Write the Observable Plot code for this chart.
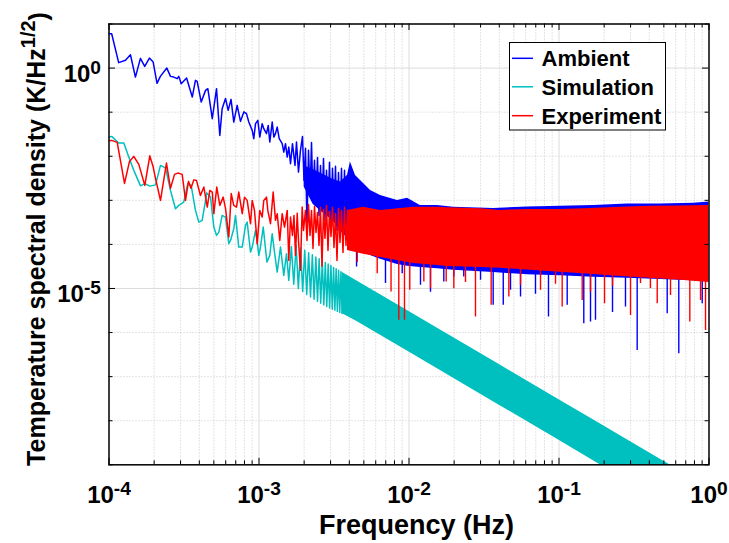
<!DOCTYPE html>
<html><head><meta charset="utf-8">
<script src="https://cdn.jsdelivr.net/npm/d3@7"></script>
<script src="https://cdn.jsdelivr.net/npm/@observablehq/plot@0.6"></script>
<style>body{margin:0;background:#fff}</style>
</head><body><div id="chart"></div>
<script>
// ---------- data ----------
const seriesNames = ["Ambient", "Simulation", "Experiment"];
const seriesColors = ["#0000ff", "#00bfbf", "#ff0000"];

const xMajorTicks = [1e-4, 1e-3, 1e-2, 1e-1, 1];
const xTickLabels = ["10^-4", "10^-3", "10^-2", "10^-1", "10^0"];
const yMajorTicks = [1e-5, 1e0];
const yTickLabels = ["10^-5", "10^0"];

// Ambient: resolved low-frequency part, then the fast oscillation up to ~4e-3 Hz
const ambientFreq = [9.26e-5,1.042e-4,1.16e-4,1.288e-4,1.39e-4,1.50e-4,1.62e-4,1.73e-4,1.86e-4,1.97e-4,2.09e-4,2.20e-4,2.43e-4,2.57e-4,2.70e-4,2.85e-4,2.92e-4,3.03e-4,3.29e-4,3.59e-4,3.77e-4,3.87e-4,4.12e-4,4.40e-4,4.56e-4,4.88e-4,5.21e-4,5.48e-4,5.68e-4,5.98e-4,6.23e-4,6.51e-4,6.79e-4,7.15e-4,7.53e-4,7.92e-4,8.25e-4,8.55e-4,9.01e-4,9.23e-4,9.48e-4,9.82e-4,1.012e-3,1.05e-3,1.076e-3,1.122e-3,1.152e-3,1.18e-3,1.225e-3,1.256e-3,1.288e-3,1.322e-3,1.364e-3,1.428e-3,1.463e-3,1.502e-3,1.542e-3,1.58e-3,1.622e-3,1.672e-3,1.738e-3,1.778e-3,1.833e-3,1.89e-3,
  1.95e-3,1.995e-3,2.042e-3,2.089e-3,2.138e-3,2.188e-3,2.239e-3,2.291e-3,2.344e-3,2.399e-3,2.455e-3,2.512e-3,2.570e-3,2.630e-3,2.692e-3,2.754e-3,2.818e-3,2.884e-3,2.951e-3,3.020e-3,3.090e-3,3.162e-3,3.236e-3,3.311e-3,3.388e-3,3.467e-3,3.548e-3,3.631e-3,3.715e-3,3.802e-3,3.890e-3];
const ambientPSD  = [6.0,6.0,1.33,1.50,2.01,0.625,1.66,1.09,1.69,1.37,0.45,0.648,1.0,0.648,0.625,0.575,0.648,0.443,0.593,0.22,0.526,0.499,0.169,0.312,0.341,0.0711,0.341,0.0297,0.12,0.205,0.11,0.195,0.0596,0.1425,0.0618,0.1014,0.0924,0.0596,0.0386,0.025,0.0548,0.0651,0.0272,0.0548,0.0422,0.0325,0.0501,0.021,0.0596,0.0272,0.0325,0.0459,0.025,0.0193,0.0124,0.0193,0.00957,0.0161,0.00678,0.0193,0.0062,0.021,0.00437,0.0136,
  0.0282,0.00283,0.0151,2.56e-4,0.0136,0.00129,0.0206,0.000997,0.00806,0.000767,0.00942,0.000455,0.0062,0.000591,0.00894,0.000351,0.00478,0.000532,0.00726,0.00027,0.00531,0.000455,0.00589,0.000208,0.0043,0.000316,0.00531,0.00016,0.00478,0.000231,0.00368];
// Ambient: dense band (upper / lower envelope of the filled part)
const ambientBandFreq = [2.0e-3,2.3e-3,2.7e-3,3.1e-3,3.5e-3,3.89e-3,4.07e-3,4.4e-3,4.75e-3,5.54e-3,6.46e-3,8.38e-3,9.77e-3,1.19e-2,1.55e-2,1.98e-2,3.66e-2,6.17e-2,0.102,0.17,0.286,0.475,0.788,1.0];
const ambientBandHi = [0.006,0.005,0.0038,0.003,0.0026,0.00368,0.00737,0.00368,0.00283,0.00168,0.00129,0.000997,0.00111,0.000767,0.000767,0.000692,0.000656,0.00071,0.000729,0.000767,0.00083,0.00083,0.000853,0.000922];
const ambientBandLo = [0.002,0.0008,0.0005,0.00035,0.0002,0.00014,0.00011,8.5e-5,7.0e-5,5.6e-5,4.6e-5,3.5e-5,3.2e-5,3.0e-5,2.8e-5,2.6e-5,2.3e-5,2.05e-5,1.95e-5,1.8e-5,1.7e-5,1.6e-5,1.5e-5,1.45e-5];
// Ambient: deepest dips below the band
const ambientDipFreq = [4.47e-3,6.97e-3,9.01e-3,1.193e-2,1.391e-2,1.706e-2,1.99e-2,2.318e-2,2.998e-2,3.64e-2,4.25e-2,4.75e-2,5.54e-2,6.97e-2,8.51e-2,0.1134,0.1463,0.1622,0.1751,0.2274,0.2775,0.332,0.5265,0.629,0.901];
const ambientDipPSD  = [3.06e-5,1.3e-5,2.17e-5,1.18e-5,8.16e-6,1.4e-5,1.81e-5,1.81e-5,1.53e-5,4.14e-6,4.14e-6,9.06e-6,6.38e-6,7.35e-6,2.25e-6,4.14e-6,1.59e-6,1.73e-6,1.89e-6,2.87e-6,3.79e-6,3.94e-7,2.68e-6,3.32e-7,4.52e-6];

// Simulation: resolved part and comb teeth
const simFreq = [9.26e-5,1.042e-4,1.16e-4,1.255e-4,1.355e-4,1.463e-4,1.622e-4,1.733e-4,1.871e-4,2.042e-4,2.204e-4,2.38e-4,2.57e-4,2.775e-4,2.92e-4,3.15e-4,3.35e-4,3.53e-4,3.77e-4,3.97e-4,4.18e-4,4.49e-4,4.75e-4,5.00e-4,5.21e-4,5.40e-4,5.68e-4,5.98e-4,6.29e-4,6.46e-4,6.79e-4,6.97e-4,7.33e-4,7.73e-4,8.13e-4,8.34e-4,8.78e-4,9.01e-4,9.48e-4,9.73e-4,9.97e-4,1.023e-3,1.067e-3,1.129e-3,1.18e-3,1.225e-3,1.256e-3,1.322e-3,1.391e-3,1.463e-3,1.525e-3,1.58e-3,
  1.643e-3,1.705e-3,1.768e-3,1.83e-3,1.893e-3,1.955e-3,2.018e-3,2.08e-3,2.143e-3,2.205e-3,2.268e-3,2.33e-3,2.393e-3,2.455e-3,2.518e-3,2.58e-3,2.643e-3,2.705e-3,2.768e-3,2.83e-3,2.893e-3,2.955e-3,3.018e-3,3.08e-3,3.143e-3,3.205e-3,3.268e-3,3.33e-3,3.393e-3,3.455e-3,3.518e-3,3.58e-3];
const simPSD = [0.0254,0.0282,0.0199,0.0199,0.00957,0.00478,0.00213,0.00239,0.0021,0.00224,0.0062,0.00544,0.00168,0.000646,0.000767,0.000912,0.00239,0.00218,0.000591,0.000321,0.000351,0.001475,0.001185,0.000247,0.00016,0.00019,0.000455,0.000417,0.000104,0.000123,0.000227,0.000455,8.69e-5,8.69e-5,0.00027,0.000321,6.7e-5,8.69e-5,0.000208,0.000113,5.64e-5,8.69e-5,0.000247,3.97e-5,5.64e-5,0.000175,8.69e-5,2.36e-5,8.69e-5,1.98e-5,6.15e-5,1.53e-5,
  9.0e-5,1.25e-5,9.5e-5,1.0e-5,8.4e-5,8.5e-6,7.4e-5,7.3e-6,6.5e-5,6.4e-6,5.8e-5,5.7e-6,5.2e-5,5.1e-6,4.7e-5,4.6e-6,4.3e-5,4.2e-6,3.9e-5,3.9e-6,3.6e-5,3.6e-6,3.3e-5,3.4e-6,3.0e-5,3.2e-6,2.8e-5,3.0e-6,2.6e-5,2.85e-6,2.4e-5,2.7e-6];
// Simulation: solid band at high frequency
const simBandFreq = [3.58e-3,4.5e-3,6.0e-3,8.78e-3,1.0e-2,1.46e-2,3.0e-2,4.05e-2,0.1,0.188,0.3,1.0];
const simBandHi = [2.34e-5,1.48e-5,8.3e-6,3.9e-6,3.0e-6,1.41e-6,3.33e-7,1.83e-7,3.0e-8,8.5e-9,3.33e-9,3.0e-10];
const simBandLo = [2.7e-6,1.78e-6,1.0e-6,4.7e-7,3.6e-7,1.69e-7,4.0e-8,2.2e-8,3.6e-9,1.0e-9,4.0e-10,3.6e-11];

// Experiment: resolved low-frequency part, then the fast oscillation up to ~4e-3 Hz
const expFreq = [9.26e-5,1.042e-4,1.134e-4,1.269e-4,1.37e-4,1.463e-4,1.58e-4,1.733e-4,1.871e-4,1.971e-4,2.042e-4,2.204e-4,2.416e-4,2.57e-4,2.734e-4,2.875e-4,3.076e-4,3.236e-4,3.388e-4,3.52e-4,3.675e-4,3.83e-4,4.07e-4,4.29e-4,4.52e-4,4.70e-4,4.88e-4,5.0e-4,5.23e-4,5.48e-4,5.77e-4,5.98e-4,6.29e-4,6.53e-4,6.79e-4,7.08e-4,7.33e-4,7.73e-4,8.01e-4,8.34e-4,8.78e-4,9.01e-4,9.33e-4,9.73e-4,1.012e-3,1.05e-3,1.076e-3,1.122e-3,1.145e-3,1.193e-3,1.243e-3,1.288e-3,1.322e-3,1.376e-3,1.428e-3,1.479e-3,1.542e-3,1.58e-3,1.622e-3,1.672e-3,1.711e-3,1.751e-3,1.798e-3,1.833e-3,1.89e-3,1.94e-3,1.98e-3,2.042e-3,
  2.089e-3,2.138e-3,2.188e-3,2.239e-3,2.291e-3,2.344e-3,2.399e-3,2.455e-3,2.512e-3,2.570e-3,2.630e-3,2.692e-3,2.754e-3,2.818e-3,2.884e-3,2.951e-3,3.020e-3,3.090e-3,3.162e-3,3.236e-3,3.311e-3,3.388e-3,3.467e-3,3.548e-3,3.631e-3,3.715e-3,3.802e-3,3.890e-3];
const expPSD  = [0.0212,0.0229,0.0206,0.00242,0.00764,0.00993,0.00654,0.00218,0.0102,0.00568,0.00315,0.000997,0.007,0.00187,0.00388,0.00415,0.00388,0.000997,0.00269,0.00187,0.00291,0.00283,0.00129,0.002,0.000703,0.00168,0.00154,0.000498,0.002,0.000767,0.00118,0.000656,0.000147,0.00142,0.000767,0.0007,0.00154,0.000498,0.00118,0.000997,0.000295,0.000997,0.000591,0.000104,0.000591,0.000417,0.000997,0.00118,0.000591,0.000295,0.00154,0.000351,0.000498,0.000123,0.000498,0.000247,0.000591,4.34e-5,0.000417,0.00016,0.000455,5.64e-5,0.000506,0.000123,2.58e-5,0.000703,0.000208,0.000591,
  1.23e-4,8.09e-4,1.6e-4,5.91e-4,8.11e-5,7.29e-4,1.87e-4,5.32e-4,9.5e-5,6.92e-4,3.18e-5,6.22e-4,1.37e-4,7.67e-4,7.31e-5,5.61e-4,1.52e-4,6.92e-4,8.55e-5,5.05e-4,4.34e-5,6.56e-4,1.11e-4,5.91e-4,6.59e-5,6.92e-4,9.5e-5,5.91e-4];
// Experiment: dense band
const expBandFreq = [3.89e-3,4.97e-3,6.46e-3,1.072e-2,1.549e-2,1.806e-2,3.0e-2,4.07e-2,6.46e-2,0.1023,0.162,0.257,0.407,0.646,1.0];
const expBandHi = [5.91e-4,6.92e-4,5.91e-4,6.92e-4,6.92e-4,6.8e-4,6.46e-4,5.91e-4,6.23e-4,6.23e-4,6.56e-4,6.92e-4,7.29e-4,7.48e-4,7.67e-4];
const expBandLo = [7.3e-5,6.0e-5,5.07e-5,3.71e-5,3.3e-5,3.17e-5,3.0e-5,2.86e-5,2.6e-5,2.32e-5,2.1e-5,1.88e-5,1.7e-5,1.53e-5,1.37e-5];
// Experiment: dips below the band
const expDipFreq = [4.52e-3,6.14e-3,7.59e-3,8.55e-3,9.33e-3,1.012e-2,1.256e-2,1.391e-2,1.77e-2,1.99e-2,2.38e-2,2.775e-2,3.53e-2,4.63e-2,5.54e-2,7.53e-2,9.48e-2,0.105,0.1428,0.1622,0.2011,0.2274,0.2998,0.3494,0.407,0.4517,0.554,0.745,0.878,0.948];
const expDipPSD  = [3.91e-5,2.17e-5,8.28e-6,1.89e-6,1.89e-6,9.06e-6,1.4e-5,9.9e-6,1.4e-5,9.9e-6,1.37e-5,2.25e-6,4.14e-6,6.38e-6,1.18e-5,9.06e-6,1.24e-5,3.79e-6,5.37e-6,8.16e-6,4.52e-6,1.11e-5,2.45e-6,1.3e-5,1.0e-5,4.52e-6,6.97e-6,1.73e-6,5.37e-6,1.12e-6];

// ---------- build tables ----------
const rows = (fs, vs) => fs.map((f, i) => ({f, v: vs[i]}));
const band = (fs, hi, lo) => fs.map((f, i) => ({f, hi: hi[i], lo: lo[i]}));
const DIP_TOP = 1e-4;

const xMinor = [];
for (let e = -4; e < 0; e++) for (let k = 2; k <= 9; k++) xMinor.push(k * Math.pow(10, e));
const yDecades = d3.range(-9, 2).map(e => Math.pow(10, e));
const yMinor = yDecades.filter(v => !yMajorTicks.includes(v));
const xGridMajor = xMajorTicks.slice(1, -1);

const W = 729, H = 543, mL = 108.5, mR = 20.5, mT = 23.5, mB = 78.7;
const fw = W - mL - mR, fh = H - mT - mB;
const [cA, cS, cE] = seriesColors;
const labelMap = new Map([...xMajorTicks.map((t, i) => [t, xTickLabels[i]]), ...yMajorTicks.map((t, i) => ["y" + t, yTickLabels[i]])]);

const svg = Plot.plot({
  width: W, height: H,
  marginLeft: mL, marginRight: mR, marginTop: mT, marginBottom: mB,
  x: {type: "log", domain: [1e-4, 1]},
  y: {type: "log", domain: [1e-9, 1e1]},
  style: {fontFamily: "'Liberation Sans', Arial, Helvetica, sans-serif", background: "#fff", color: "#000"},
  marks: [
    Plot.ruleX(xMinor, {stroke: "#c4c4c4", strokeDasharray: "1,2", strokeWidth: 0.9}),
    Plot.ruleY(yMinor, {stroke: "#c4c4c4", strokeDasharray: "1,2", strokeWidth: 0.9}),
    Plot.ruleX(xGridMajor, {stroke: "#dcdcdc", strokeWidth: 1}),
    Plot.ruleY(yMajorTicks, {stroke: "#dcdcdc", strokeWidth: 1}),
    // Ambient
    Plot.areaY(band(ambientBandFreq, ambientBandHi, ambientBandLo), {x: "f", y1: "lo", y2: "hi", fill: cA, clip: true}),
    Plot.ruleX(rows(ambientDipFreq, ambientDipPSD), {x: "f", y1: "v", y2: DIP_TOP, stroke: cA, strokeWidth: 1.4, clip: true}),
    Plot.line(rows(ambientFreq, ambientPSD), {x: "f", y: "v", stroke: cA, strokeWidth: 1.5, clip: true}),
    // Simulation
    Plot.areaY(band(simBandFreq, simBandHi, simBandLo), {x: "f", y1: "lo", y2: "hi", fill: cS, clip: true}),
    Plot.line(rows(simFreq, simPSD), {x: "f", y: "v", stroke: cS, strokeWidth: 1.5, clip: true}),
    // Experiment
    Plot.areaY(band(expBandFreq, expBandHi, expBandLo), {x: "f", y1: "lo", y2: "hi", fill: cE, clip: true}),
    Plot.ruleX(rows(expDipFreq, expDipPSD), {x: "f", y1: "v", y2: DIP_TOP, stroke: cE, strokeWidth: 1.4, clip: true}),
    Plot.line(rows(expFreq, expPSD), {x: "f", y: "v", stroke: cE, strokeWidth: 1.5, clip: true}),
    // box and inward ticks
    Plot.frame({stroke: "#000", strokeWidth: 1.5}),
    Plot.tickX(xMinor, {insetTop: fh - 4, stroke: "#000"}),
    Plot.tickX(xMinor, {insetBottom: fh - 4, stroke: "#000"}),
    Plot.tickX(xMajorTicks, {insetTop: fh - 6.5, stroke: "#000"}),
    Plot.tickX(xMajorTicks, {insetBottom: fh - 6.5, stroke: "#000"}),
    Plot.tickY(yMinor, {insetRight: fw - 4, stroke: "#000"}),
    Plot.tickY(yMinor, {insetLeft: fw - 4, stroke: "#000"}),
    Plot.tickY(yMajorTicks, {insetRight: fw - 6.5, stroke: "#000"}),
    Plot.tickY(yMajorTicks, {insetLeft: fw - 6.5, stroke: "#000"}),
    Plot.axisX({ticks: xMajorTicks, tickFormat: d => labelMap.get(d), tickSize: 0, tickPadding: 21, fontSize: 24, fontWeight: "bold", label: null}),
    Plot.axisY({ticks: yMajorTicks, tickFormat: d => labelMap.get("y" + d), tickSize: 0, tickPadding: 8, fontSize: 24, fontWeight: "bold", dy: 6, label: null})
  ]
});

const s = d3.select(svg);
// superscripts in tick labels
s.selectAll("text").each(function () {
  const t = this.textContent;
  if (!t.includes("^")) return;
  const [b, e] = t.split("^");
  const el = d3.select(this);
  el.text(null);
  el.append("tspan").text(b);
  el.append("tspan").attr("dy", "-0.42em").attr("font-size", "0.8em").text(e);
});

const FONT = "'Liberation Sans', Arial, Helvetica, sans-serif";
// x label
s.append("text").attr("x", 416.5).attr("y", 534).attr("text-anchor", "middle")
  .attr("font-family", FONT).attr("font-weight", "bold").attr("font-size", 27).attr("fill", "#000")
  .text("Frequency (Hz)");
// y label
const yl = s.append("text").attr("transform", "translate(44.5,239) rotate(-90)").attr("text-anchor", "middle")
  .attr("font-family", FONT).attr("font-weight", "bold").attr("font-size", 25).attr("fill", "#000");
yl.append("tspan").text("Temperature spectral density (K/Hz");
yl.append("tspan").attr("dy", "-0.5em").attr("font-size", "0.8em").text("1/2");
yl.append("tspan").attr("dy", "0.5em").text(")");

// legend
const lg = s.append("g").attr("font-family", FONT).attr("font-weight", "bold").attr("font-size", 22).attr("text-anchor", "start");
lg.append("rect").attr("x", 509.5).attr("y", 42.5).attr("width", 156).attr("height", 87.5)
  .attr("fill", "#fff").attr("stroke", "#000").attr("stroke-width", 1);
const legY = [58.3, 86.8, 115.7];
seriesNames.forEach((n, i) => {
  lg.append("line").attr("x1", 512).attr("x2", 533).attr("y1", legY[i]).attr("y2", legY[i])
    .attr("stroke", seriesColors[i]).attr("stroke-width", 1.5);
  lg.append("text").attr("x", 541.5).attr("y", legY[i] + 8).attr("text-anchor", "start").attr("fill", "#000").text(n);
});

document.getElementById("chart").appendChild(svg);
</script>
</body></html>
